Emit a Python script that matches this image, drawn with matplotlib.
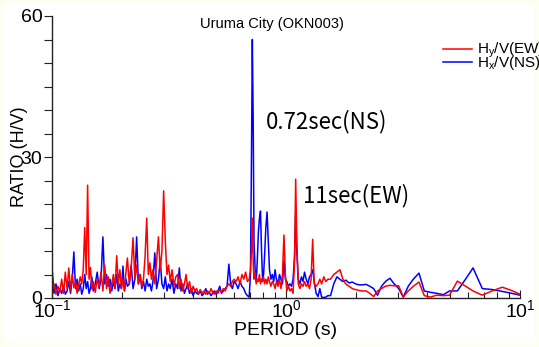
import matplotlib
matplotlib.use("Agg")
import matplotlib.pyplot as plt
from matplotlib.ticker import MultipleLocator, LogLocator, NullFormatter
from matplotlib.patches import Rectangle

plt.rcParams['font.family'] = ['Liberation Sans', 'DejaVu Sans']
plt.rcParams['mathtext.fontset'] = 'custom'
plt.rcParams['mathtext.rm'] = 'Liberation Sans'
plt.rcParams['mathtext.it'] = 'Liberation Sans'

# period (s)
period = [
    0.100, 0.102, 0.104, 0.106, 0.108, 0.110, 0.112, 0.114, 0.116, 0.118,
    0.120, 0.122, 0.124, 0.126, 0.128, 0.130, 0.132, 0.134, 0.136, 0.138,
    0.140, 0.142, 0.144, 0.146, 0.148, 0.150, 0.153, 0.156, 0.159, 0.162,
    0.165, 0.168, 0.171, 0.174, 0.177, 0.180, 0.183, 0.186, 0.189, 0.192,
    0.195, 0.198, 0.201, 0.204, 0.207, 0.210, 0.214, 0.218, 0.222, 0.226,
    0.230, 0.234, 0.238, 0.242, 0.246, 0.250, 0.254, 0.258, 0.262, 0.266,
    0.270, 0.275, 0.280, 0.285, 0.290, 0.295, 0.300, 0.305, 0.310, 0.315,
    0.320, 0.326, 0.332, 0.338, 0.344, 0.350, 0.356, 0.362, 0.368, 0.374,
    0.380, 0.387, 0.394, 0.401, 0.408, 0.415, 0.422, 0.430, 0.438, 0.446,
    0.454, 0.462, 0.470, 0.478, 0.486, 0.494, 0.503, 0.512, 0.521, 0.530,
    0.540, 0.550, 0.560, 0.570, 0.580, 0.590, 0.600,
    0.612, 0.624, 0.636, 0.648, 0.660, 0.672, 0.684, 0.696, 0.705, 0.712,
    0.718, 0.724, 0.730, 0.738, 0.746, 0.754, 0.762, 0.770, 0.778, 0.786,
    0.794, 0.802, 0.810, 0.820, 0.830, 0.840, 0.850, 0.862, 0.874, 0.886,
    0.898, 0.910, 0.924, 0.938, 0.952, 0.966, 0.980, 0.994, 1.008, 1.024,
    1.040, 1.056, 1.072, 1.088, 1.100, 1.112, 1.128, 1.146, 1.164, 1.182,
    1.200, 1.220, 1.240, 1.260, 1.280, 1.300, 1.320, 1.345, 1.370, 1.395,
    1.420, 1.450, 1.480, 1.510,
    1.55, 1.60, 1.65, 1.70, 1.75, 1.80, 1.86, 1.92, 1.98, 2.05,
    2.12, 2.20, 2.28, 2.37, 2.46, 2.56, 2.66, 2.78, 2.90, 3.03,
    3.17, 3.33, 3.50, 3.70, 3.90, 4.15, 4.40, 4.70, 5.00, 5.40,
    5.85, 6.30, 6.90, 7.60, 8.40, 9.20, 10.0,
]

# H/V ratio, EW component
ratio_ew = [
    1.5, 3.0, 0.8, 2.5, 1.2, 4.0, 1.0, 5.5, 2.0, 6.4,
    1.5, 5.0, 2.2, 3.5, 1.0, 2.8, 4.5, 3.0, 6.0, 15.0,
    5.0, 24.0, 4.0, 6.5, 2.0, 3.5, 1.2, 4.0, 2.5, 5.5,
    1.5, 7.0, 2.0, 4.5, 1.0, 3.0, 5.0, 2.0, 9.0, 3.0,
    6.0, 2.0, 4.0, 1.5, 5.5, 8.5, 3.0, 6.5, 12.8, 4.0,
    7.0, 3.0, 5.0, 2.5, 4.0, 9.0, 17.0, 5.0, 7.5, 4.0,
    6.0, 3.0, 8.0, 13.0, 6.0, 10.0, 22.8, 12.0, 5.0, 7.0,
    3.5, 6.0, 2.5, 4.5, 5.0, 2.0, 4.0, 1.5, 3.0, 5.0,
    2.0, 3.5, 1.0, 2.5, 1.5, 2.0, 0.8, 1.8, 1.0, 1.5,
    0.8, 1.5, 1.0, 2.0, 1.2, 0.8, 1.5, 1.0, 1.8, 1.2,
    2.0, 1.5, 2.5, 3.0, 2.5, 3.5, 4.0,
    3.5, 4.5, 3.0, 5.0, 4.0, 5.5, 3.5, 4.0, 6.0, 10.0,
    17.0, 8.0, 4.0, 5.5, 3.0, 4.0, 3.5, 5.0, 3.0, 4.0,
    3.5, 4.5, 3.0, 4.0, 3.0, 4.5, 3.5, 2.5, 3.5, 3.0,
    2.0, 3.5, 2.5, 4.0, 2.0, 5.0, 13.4, 5.0, 1.5, 2.5,
    1.5, 2.0, 1.0, 8.0, 25.3, 12.0, 3.0, 2.0, 3.0, 2.5,
    3.5, 2.5, 3.0, 2.0, 4.0, 12.5, 3.0, 2.5, 3.0, 4.0,
    3.0, 4.5, 3.5, 4.0,
    4.0, 5.0, 5.5, 6.0, 4.0, 3.0, 2.5, 2.0, 1.8, 1.6,
    1.5, 1.5, 1.0, 0.3, 1.5, 2.0, 2.5, 2.7, 2.6, 2.6,
    0.2, 1.5, 2.5, 3.4, 0.5, 0.2, 0.6, 0.5, 0.6, 3.6,
    2.5, 1.5, 0.6, 1.5, 2.3, 1.6, 0.8,
]

# H/V ratio, NS component
ratio_ns = [
    6.6, 1.0, 3.0, 0.5, 2.0, 1.0, 2.5, 0.8, 1.5, 3.5,
    1.0, 4.0, 9.8, 2.0, 4.0, 1.5, 3.0, 0.8, 2.0, 5.0,
    2.0, 3.5, 1.0, 2.0, 4.5, 1.5, 3.0, 5.5, 2.0, 4.0,
    13.0, 3.0, 5.0, 2.5, 4.0, 1.5, 3.5, 2.0, 5.0, 1.5,
    3.0, 2.0, 6.8, 1.5, 4.0, 2.5, 3.0, 7.0, 2.0, 4.0,
    13.0, 3.0, 5.0, 2.0, 3.5, 1.5, 4.0, 2.5, 3.0, 1.5,
    3.5, 9.6, 2.0, 4.0, 8.0, 3.0, 2.0, 4.5, 1.5, 3.0,
    2.0, 4.0, 1.0, 3.0, 2.0, 6.4, 1.5, 3.0, 1.0, 2.0,
    3.0, 1.0, 2.0, 0.5, 1.5, 1.0, 0.8, 1.5, 0.5, 1.0,
    2.0, 0.8, 1.2, 0.5, 1.0, 1.5, 0.8, 1.5, 2.5, 1.0,
    1.5, 2.0, 2.5, 7.2, 3.0, 2.0, 3.5,
    3.0, 2.0, 3.5, 2.5, 2.0, 1.0, 0.5, 0.2, 5.0, 30.0,
    55.0, 38.0, 12.0, 6.0, 3.5, 8.0, 14.0, 17.0, 18.5, 10.0,
    4.0, 5.0, 9.0, 15.0, 18.3, 12.0, 6.0, 4.0, 5.0, 3.5,
    6.0, 4.0, 3.0, 5.0, 4.0, 3.0, 8.0, 4.0, 3.5, 2.5,
    3.0, 2.5, 4.0, 9.0, 18.0, 10.0, 4.0, 3.0, 4.5, 3.5,
    5.5, 4.0, 3.0, 4.5, 5.0, 6.0, 3.5, 1.0, 0.3, 2.0,
    0.2, 0.1, 0.2, 0.5,
    0.5, 3.0, 4.5, 4.0, 3.5, 3.8, 3.2, 3.4, 3.0, 2.8,
    2.8, 2.9, 2.5, 2.0, 0.6, 2.5, 3.5, 4.2, 3.0, 2.0,
    0.2, 2.5, 4.0, 5.3, 1.5, 1.2, 1.0, 0.7, 1.5, 1.5,
    4.0, 6.4, 2.0, 1.8, 1.4, 1.0, 0.6,
]

fig = plt.figure(figsize=(5.39, 3.47), dpi=100)
fig.patch.set_facecolor('#fdfdf0')
fig.patches.append(Rectangle((4 / 539, 4 / 347), 531 / 539, 339 / 347,
                             transform=fig.transFigure, facecolor='white',
                             edgecolor='none', zorder=-1))
ax = fig.add_axes([52 / 539, 49 / 347, 468 / 539, 282 / 347])
ax.set_facecolor('none')

line_ns, = ax.plot(period, ratio_ns, color='#0000ff', lw=1.1)
line_ew, = ax.plot(period, ratio_ew, color='#ff0000', lw=1.1)

ax.set_xscale('log')
ax.set_xlim(0.1, 10)
ax.set_ylim(0, 60)
ax.set_yticks([0, 30, 60])
ax.yaxis.set_minor_locator(MultipleLocator(5))
ax.xaxis.set_minor_locator(LogLocator(base=10, subs=range(2, 10)))
ax.xaxis.set_minor_formatter(NullFormatter())

for s in ['top', 'right']:
    ax.spines[s].set_visible(False)
for s in ['left', 'bottom']:
    ax.spines[s].set_color('#222222')
    ax.spines[s].set_linewidth(1.0)

ax.tick_params(axis='y', which='both', direction='out', length=6, width=0.8,
               pad=1, labelsize=14, color='#222222')
ax.tick_params(axis='x', which='major', direction='in', length=6, width=0.8,
               pad=1, labelsize=14, color='#222222')
ax.tick_params(axis='x', which='minor', direction='in', length=4, width=0.8,
               color='#222222')

ax.set_xlabel('PERIOD (s)', fontsize=14)
ax.xaxis.set_label_coords(0.498, -0.085)
ax.set_ylabel('RATIO (H/V)', fontsize=13)
ax.yaxis.set_label_coords(-0.051, 0.5)

ax.text(0.47, 0.972, 'Uruma City (OKN003)', transform=ax.transAxes,
        ha='center', va='center', fontsize=10.5)
ax.text(0.457, 0.626, '0.72sec(NS)', transform=ax.transAxes,
        ha='left', va='center', fontsize=16,
        family=['Noto Sans CJK JP', 'DejaVu Sans'])
ax.text(0.536, 0.363, '11sec(EW)', transform=ax.transAxes,
        ha='left', va='center', fontsize=16,
        family=['Noto Sans CJK JP', 'DejaVu Sans'])

ax.legend([line_ew, line_ns], [r'H$_y$/V(EW)', r'H$_x$/V(NS)'],
          loc='upper left', bbox_to_anchor=(443 / 539, 1 - 41 / 347),
          bbox_transform=fig.transFigure, frameon=False, fontsize=11,
          handlelength=1.9, handletextpad=0.3, labelspacing=-0.38,
          borderpad=0, borderaxespad=0)

fig.savefig('out.png', dpi=100)
